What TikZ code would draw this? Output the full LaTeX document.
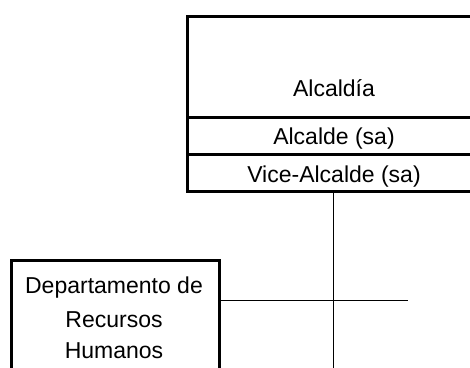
\documentclass[tikz,border=0pt]{standalone}
\usepackage{fontspec}
\setmainfont{Liberation Sans}
\begin{document}
\begin{tikzpicture}[x=1pt,y=-1pt,
  box/.style={draw=black,line width=3pt,rectangle,inner sep=0pt,anchor=north west},
  conn/.style={draw=black,line width=1pt},
  lbl/.style={anchor=base,inner sep=0pt,font=\fontsize{23}{28}\selectfont}]
\useasboundingbox (0,0) rectangle (470,367);
\clip (0,0) rectangle (470,367);
% top boxes
\node[box,minimum width=296pt,minimum height=101pt] (alcaldia) at (186,15) {};
\node[box,minimum width=296pt,minimum height=37pt] (alcalde) at (186,116) {};
\node[box,minimum width=296pt,minimum height=37pt] (vice) at (186,153) {};
\node[lbl] (talcaldia) at (334,96) {Alcaldía};
\node[lbl] (talcalde) at (334,144) {Alcalde (sa)};
\node[lbl] (tvice) at (334,182) {Vice-Alcalde (sa)};
% left box
\node[box,minimum width=208pt,minimum height=150pt] (rrhh) at (10,259) {};
\node[lbl] (t1) at (114,293) {Departamento de};
\node[lbl] (t2) at (114,327) {Recursos};
\node[lbl] (t3) at (114,358) {Humanos};
% connectors
\coordinate (vend) at (333,380);
\coordinate (hend) at (408,300);
\draw[conn] (vice.south -| vend) -- (vend);
\draw[conn] (rrhh.east |- hend) -- (hend);
\end{tikzpicture}
\end{document}
